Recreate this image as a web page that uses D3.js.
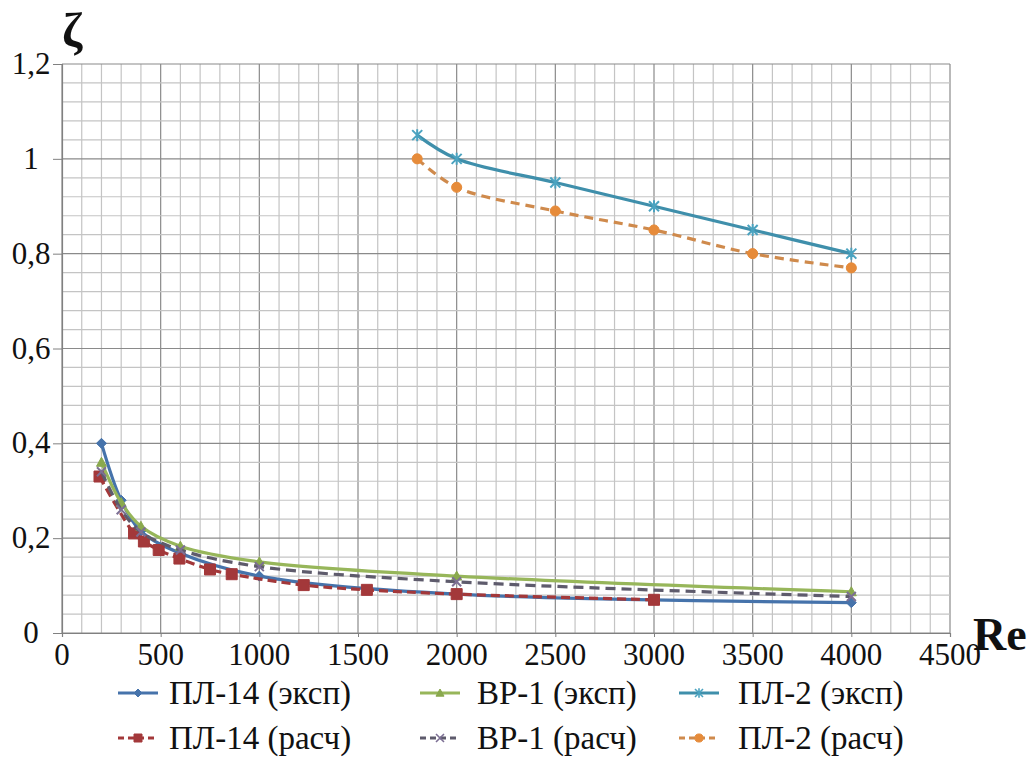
<!DOCTYPE html>
<html><head><meta charset="utf-8">
<script src="https://cdn.jsdelivr.net/npm/d3@7"></script>
</head><body style="margin:0"><svg id="c" width="1032" height="758"></svg>
<script>
const xTicks = [0,500,1000,1500,2000,2500,3000,3500,4000,4500];
const yTicks = [0,0.2,0.4,0.6,0.8,1,1.2];
const yTickLabels = ["0","0,2","0,4","0,6","0,8","1","1,2"];

const pl14ExpRe = [200,300,400,600,1000,2000,4000];
const pl14ExpZeta = [0.40,0.28,0.215,0.168,0.12,0.082,0.064];
const pl14CalcRe = [190,365,415,490,595,750,860,1225,1545,2000,3000];
const pl14CalcZeta = [0.33,0.21,0.193,0.175,0.157,0.134,0.124,0.101,0.091,0.082,0.07];
const bp1ExpRe = [200,300,400,600,1000,2000,4000];
const bp1ExpZeta = [0.36,0.275,0.225,0.183,0.15,0.12,0.087];
const bp1CalcRe = [200,300,400,600,1000,2000,4000];
const bp1CalcZeta = [0.34,0.26,0.213,0.175,0.14,0.108,0.077];
const pl2ExpRe = [1800,2000,2500,3000,3500,4000];
const pl2ExpZeta = [1.05,1.0,0.95,0.9,0.85,0.8];
const pl2CalcRe = [1800,2000,2500,3000,3500,4000];
const pl2CalcZeta = [1.0,0.94,0.89,0.85,0.80,0.77];

const seriesNames = ["ПЛ-14 (эксп)","ПЛ-14 (расч)","ВР-1 (эксп)","ВР-1 (расч)","ПЛ-2 (эксп)","ПЛ-2 (расч)"];

const SERIF = "Liberation Serif";
const svg = d3.select("#c");
const x = d3.scaleLinear().domain([0,4500]).range([62,950]);
const y = d3.scaleLinear().domain([0,1.2]).range([633,64]);

// grid
const g = svg.append("g");
g.selectAll(".vx").data(d3.range(0,4501,100)).join("line")
  .attr("x1",d=>x(d)).attr("x2",d=>x(d)).attr("y1",y(0)).attr("y2",y(1.2))
  .attr("stroke",d=>d%500===0?"#8a8a8a":"#c4c4c4").attr("stroke-width",1.2);
g.selectAll(".hy").data(d3.range(0,31,1).map(i=>i*0.04)).join("line")
  .attr("y1",d=>y(d)).attr("y2",d=>y(d)).attr("x1",x(0)).attr("x2",x(4500))
  .attr("stroke",(d,i)=>i%5===0?"#8a8a8a":"#c4c4c4").attr("stroke-width",1.2);

// axes lines
const ax = svg.append("g").attr("transform",`translate(0,${y(0)})`)
  .call(d3.axisBottom(x).tickValues(xTicks).tickSize(4).tickFormat(""));
ax.select(".domain").attr("stroke","#808080").attr("stroke-width",1.2);
ax.selectAll(".tick line").attr("stroke","#808080");
ax.selectAll("text").remove();
const ay = svg.append("g").attr("transform",`translate(${x(0)},0)`)
  .call(d3.axisLeft(y).tickValues(yTicks).tickSize(9).tickFormat(""));
ay.select(".domain").attr("stroke","#808080").attr("stroke-width",1.2);
ay.selectAll(".tick line").attr("stroke","#808080");
ay.selectAll("text").remove();

// tick labels
xTicks.forEach(t=>{
  svg.append("text").attr("x",x(t)).attr("y",y(0)+32).attr("font-size",31)
    .attr("font-family",SERIF).attr("fill","#111").attr("text-anchor","middle").text(String(t));
});
yTicks.forEach((t,i)=>{
  svg.append("text").attr("x",31).attr("y",y(t)+10).attr("font-size",31)
    .attr("font-family",SERIF).attr("fill","#111").attr("text-anchor","middle").text(yTickLabels[i]);
});

// axis titles
svg.append("text").attr("x",62).attr("y",46).attr("font-size",49).attr("font-family",SERIF).attr("font-weight","bold").attr("fill","#111").text("ζ");
svg.append("text").attr("x",973).attr("y",650).attr("font-size",46).attr("font-family",SERIF).attr("font-weight","bold").attr("fill","#111").text("Re");

function markerPath(type, s){
  const h=s/2;
  switch(type){
    case "diamond": return `M0,${-h}L${h},0L0,${h}L${-h},0Z`;
    case "square": return `M${-h},${-h}H${h}V${h}H${-h}Z`;
    case "triangle": return `M0,${-h}L${h},${h*0.8}L${-h},${h*0.8}Z`;
    case "x": return `M${-h},${-h}L${h},${h}M${-h},${h}L${h},${-h}`;
    case "star": return `M${-h},${-h}L${h},${h}M${-h},${h}L${h},${-h}M0,${-h*1.2}V${h*1.2}`;
    case "circle": return d3.symbol(d3.symbolCircle, s*s*0.8)();
  }
}

const series = [
  {name:seriesNames[0], re:pl14ExpRe, z:pl14ExpZeta, color:"#4673ab", mcolor:"#4673ab", dash:null, marker:"diamond", ms:10, fill:true},
  {name:seriesNames[1], re:pl14CalcRe, z:pl14CalcZeta, color:"#a3383a", mcolor:"#a3383a", dash:"9,5", marker:"square", ms:11, fill:true},
  {name:seriesNames[2], re:bp1ExpRe, z:bp1ExpZeta, color:"#97b65a", mcolor:"#8aa94e", dash:null, marker:"triangle", ms:10, fill:true},
  {name:seriesNames[3], re:bp1CalcRe, z:bp1CalcZeta, color:"#5e5b6c", mcolor:"#7c6f94", dash:"10,6", marker:"x", ms:9, fill:false},
  {name:seriesNames[4], re:pl2ExpRe, z:pl2ExpZeta, color:"#3f8fab", mcolor:"#4ba3c0", dash:null, marker:"star", ms:10, fill:false},
  {name:seriesNames[5], re:pl2CalcRe, z:pl2CalcZeta, color:"#cf8a4c", mcolor:"#e68b3a", dash:"9,6", marker:"circle", ms:10, fill:true}
];

const line = d3.line().x(d=>x(d[0])).y(d=>y(d[1])).curve(d3.curveCatmullRom.alpha(0.5));
const plot = svg.append("g");
series.forEach(s=>{
  const pts = s.re.map((r,i)=>[r,s.z[i]]);
  plot.append("path").attr("d",line(pts)).attr("fill","none").attr("stroke",s.color)
    .attr("stroke-width",3.2).attr("stroke-dasharray",s.dash);
  plot.selectAll(null).data(pts).join("path")
    .attr("transform",d=>`translate(${x(d[0])},${y(d[1])})`)
    .attr("d",markerPath(s.marker,s.ms))
    .attr("fill",s.fill?s.mcolor:"none").attr("stroke",s.mcolor).attr("stroke-width",s.fill?1:2);
});

// legend
const cols=[118,420,679], textX=[169,477,738], rows=[693,738];
series.forEach((s,i)=>{
  const c = Math.floor(i/2), cx = cols[c], cy = rows[i%2];
  svg.append("line").attr("x1",cx).attr("x2",cx+40).attr("y1",cy).attr("y2",cy).attr("stroke",s.color)
    .attr("stroke-width",3).attr("stroke-dasharray",s.dash?"6,4":null);
  svg.append("path").attr("transform",`translate(${cx+20},${cy})`).attr("d",markerPath(s.marker,8))
    .attr("fill",s.fill?s.mcolor:"none").attr("stroke",s.mcolor).attr("stroke-width",s.fill?1:1.6);
  svg.append("text").attr("x",textX[c]).attr("y",cy+11).attr("font-size",33)
    .attr("font-family",SERIF).attr("fill","#111").text(s.name);
});
</script></body></html>
